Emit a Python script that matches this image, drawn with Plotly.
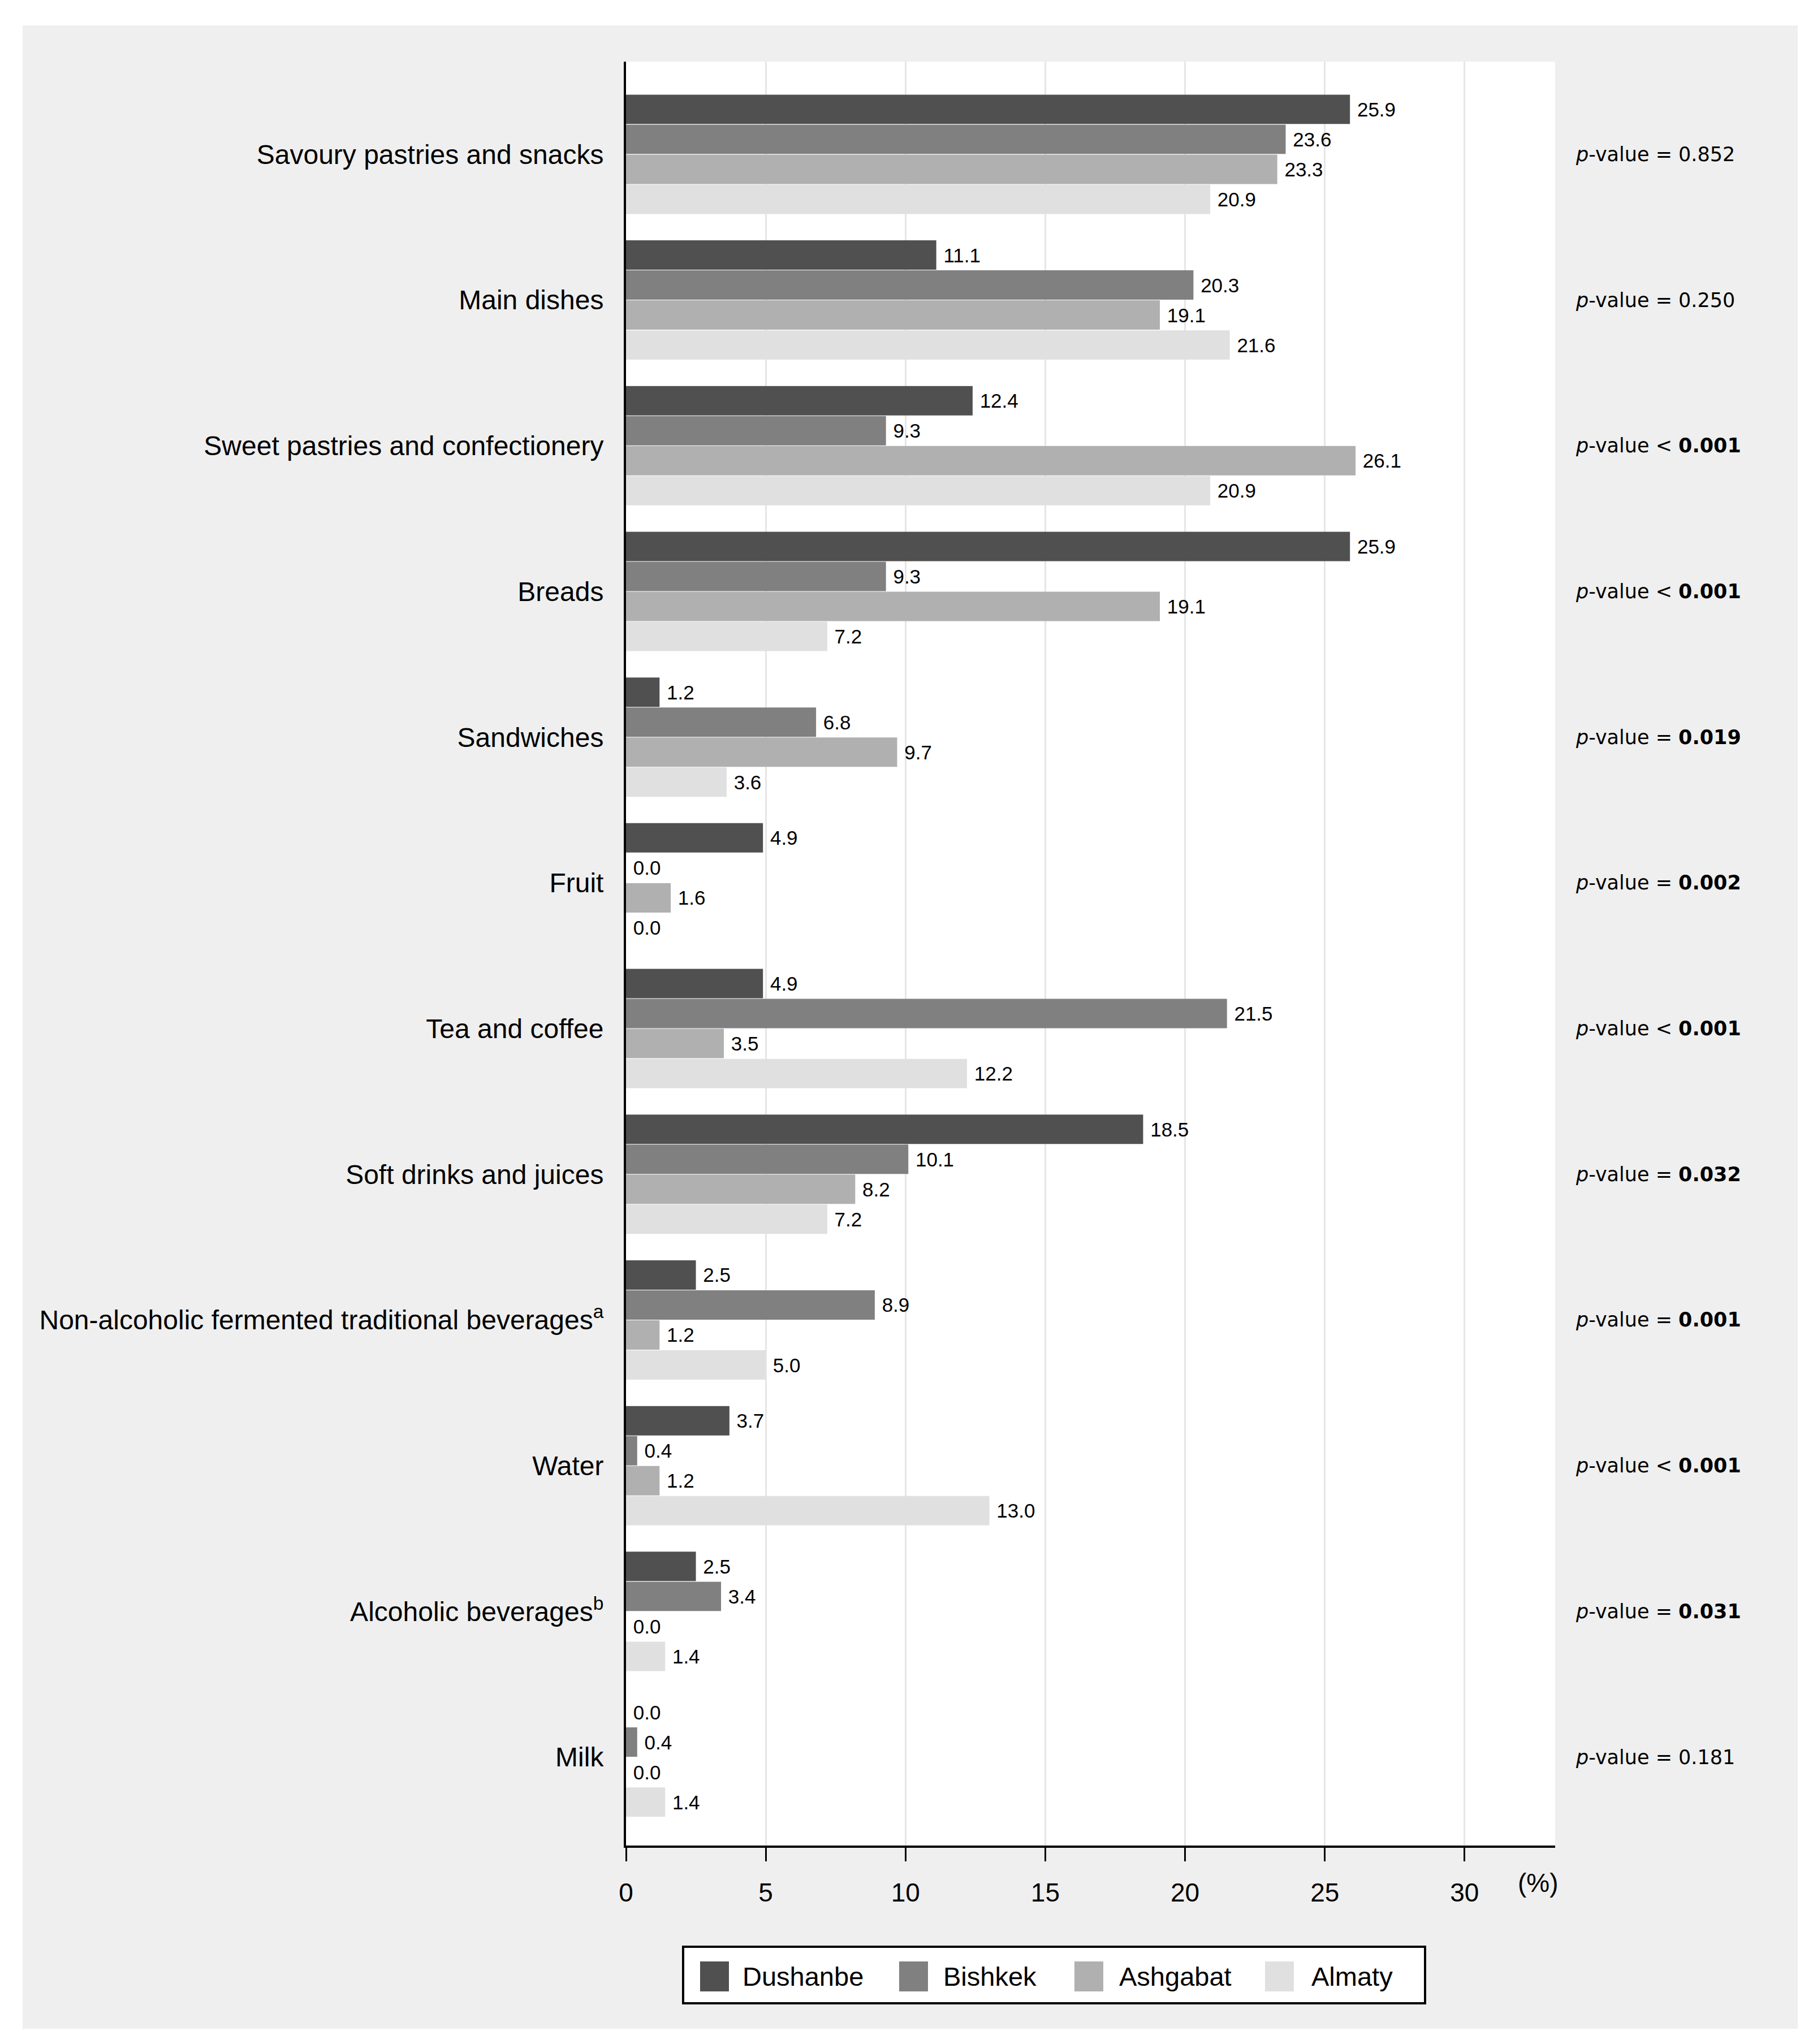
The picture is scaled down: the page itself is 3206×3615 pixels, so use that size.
import plotly.graph_objects as go

# ---------------- data ----------------
categories = [
    "Savoury pastries and snacks",
    "Main dishes",
    "Sweet pastries and confectionery",
    "Breads",
    "Sandwiches",
    "Fruit",
    "Tea and coffee",
    "Soft drinks and juices",
    "Non-alcoholic fermented traditional beverages<sup>a</sup>",
    "Water",
    "Alcoholic beverages<sup>b</sup>",
    "Milk",
]
cities = ["Dushanbe", "Bishkek", "Ashgabat", "Almaty"]
dushanbe = [25.9, 11.1, 12.4, 25.9, 1.2, 4.9, 4.9, 18.5, 2.5, 3.7, 2.5, 0.0]
bishkek = [23.6, 20.3, 9.3, 9.3, 6.8, 0.0, 21.5, 10.1, 8.9, 0.4, 3.4, 0.4]
ashgabat = [23.3, 19.1, 26.1, 19.1, 9.7, 1.6, 3.5, 8.2, 1.2, 1.2, 0.0, 0.0]
almaty = [20.9, 21.6, 20.9, 7.2, 3.6, 0.0, 12.2, 7.2, 5.0, 13.0, 1.4, 1.4]
p_ops = ["=", "=", "<", "<", "=", "=", "<", "=", "=", "<", "=", "="]
p_vals = ["0.852", "0.250", "0.001", "0.001", "0.019", "0.002", "0.001",
          "0.032", "0.001", "0.001", "0.031", "0.181"]
p_bold = [False, False, True, True, True, True, True, True, True, True, True, False]
x_ticks = [0, 5, 10, 15, 20, 25, 30]

series = [dushanbe, bishkek, ashgabat, almaty]
colors = ["#505050", "#808080", "#b0b0b0", "#e0e0e0"]

FONT = "Arial, Liberation Sans, sans-serif"
PFONT = "Verdana, DejaVu Sans, sans-serif"

W, H = 3206, 3615
L, R, T, B = 1099, 2742, 101, 3256  # plot area in pixels


def px2x(px):
    return (px - L) / (R - L)


def px2y(py):
    return (B - py) / (B - T)


fig = go.Figure()
for name, vals, col in zip(cities, series, colors):
    fig.add_trace(go.Bar(
        y=categories, x=vals, orientation="h", name=name,
        marker=dict(color=col, line=dict(width=0)),
        text=["\u00a0" + f"{v:.1f}" for v in vals],
        textposition="outside", constraintext="none", cliponaxis=False,
        textfont=dict(family=FONT, size=35, color="black"),
        showlegend=False,
    ))

annotations = []
# p-values
for cat, op, val, bold in zip(categories, p_ops, p_vals, p_bold):
    v = f"<b>{val}</b>" if bold else val
    annotations.append(dict(
        x=px2x(2776), xref="paper", y=cat, yref="y",
        text=f"<i>p</i>-value {op} {v}", showarrow=False,
        xanchor="left", yanchor="middle",
        font=dict(family=PFONT, size=35, color="black"),
    ))
# (%) axis unit
annotations.append(dict(
    x=px2x(2712), xref="paper", y=px2y(3322), yref="paper",
    text="(%)", showarrow=False, xanchor="center", yanchor="middle",
    font=dict(family=FONT, size=46, color="black"),
))

shapes = [
    # grey panel
    dict(type="rect", xref="paper", yref="paper", layer="below",
         x0=px2x(32), x1=px2x(3171), y0=px2y(3580), y1=px2y(37),
         fillcolor="#efefef", line=dict(width=0)),
    # white plot area
    dict(type="rect", xref="paper", yref="paper", layer="below",
         x0=0, x1=1, y0=0, y1=1, fillcolor="white", line=dict(width=0)),
    # legend box
    dict(type="rect", xref="paper", yref="paper", layer="above",
         x0=px2x(1200), x1=px2x(2512), y0=px2y(3535), y1=px2y(3435),
         fillcolor="white", line=dict(color="black", width=4)),
]

# manual legend (large swatches)
sw_left = [1230, 1582, 1892, 2229]
txt_left = [1303, 1658, 1969, 2309]
for name, col, sx, tx in zip(cities, colors, sw_left, txt_left):
    shapes.append(dict(type="rect", xref="paper", yref="paper", layer="above",
                       x0=px2x(sx), x1=px2x(sx + 51), y0=px2y(3514), y1=px2y(3461),
                       fillcolor=col, line=dict(width=0)))
    annotations.append(dict(
        x=px2x(tx), xref="paper", y=px2y(3487), yref="paper",
        text=name, showarrow=False, xanchor="left", yanchor="middle",
        font=dict(family=FONT, size=47, color="black"),
    ))

fig.update_layout(
    width=W, height=H,
    margin=dict(l=L, r=W - R, t=T, b=H - B, pad=0),
    paper_bgcolor="white", plot_bgcolor="rgba(0,0,0,0)",
    barmode="group", bargap=0.177, bargroupgap=0.02,
    showlegend=False,
    font=dict(family=FONT, color="black"),
    shapes=shapes, annotations=annotations,
    xaxis=dict(
        range=[0, 33.24], tickvals=x_ticks, ticktext=[str(t) for t in x_ticks],
        ticks="outside", ticklen=24, tickwidth=3, tickcolor="black",
        showline=True, linewidth=4, linecolor="black",
        showgrid=True, gridcolor="#e6e6e6", gridwidth=3, zeroline=False,
        tickfont=dict(family=FONT, size=46, color="black"),
        ticklabelstandoff=16,
    ),
    yaxis=dict(
        type="category", categoryorder="array", categoryarray=categories,
        range=[11.607, -0.636],
        showline=True, linewidth=4, linecolor="black",
        ticks="", showgrid=False, zeroline=False,
        tickfont=dict(family=FONT, size=48, color="black"),
        ticklabelstandoff=26,
    ),
)

fig.write_html("out.html")
